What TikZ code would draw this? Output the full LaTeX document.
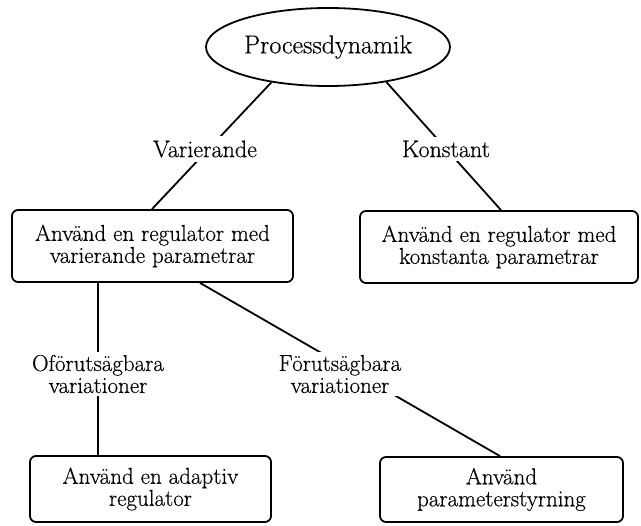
\documentclass[tikz,border=0pt]{standalone}
\usepackage{fontspec}
\newfontfamily\lmheavy{Latin Modern Roman}[FakeBold=0.4]
\usetikzlibrary{shapes.geometric}
\begin{document}
\begin{tikzpicture}[x=1pt,y=-1pt,
  line width=1.8pt,
  txt/.style={font=\lmheavy\fontsize{23}{22}\selectfont, align=center},
  box/.style={txt, draw, rounded corners=6pt, inner sep=0pt},
  lbl/.style={txt, fill=white, inner sep=5pt}]
\useasboundingbox (0,0) rectangle (641,526);
\node[draw, ellipse, minimum width=244pt, minimum height=78pt, inner sep=0pt,
      font=\lmheavy\fontsize{26}{26}\selectfont] (e) at (328,47) {Processdynamik};
\node[box, minimum width=281pt, minimum height=72pt] (b1) at (152.5,246) {Använd en regulator med\\varierande parametrar};
\node[box, minimum width=278pt, minimum height=72pt] (b2) at (499,247) {Använd en regulator med\\konstanta parametrar};
\node[box, minimum width=241pt, minimum height=66pt] (b3) at (150.5,489) {Använd en adaptiv\\regulator};
\node[box, minimum width=243pt, minimum height=65pt] (b4) at (501.5,489.5) {Använd\\parameterstyrning};
\draw (e.212) -- ([xshift=-0.5pt]b1.north);
\draw (e.329) -- ([xshift=2pt]b2.north);
\draw ([xshift=-54.5pt]b1.south) -- ([xshift=-52.5pt]b3.north);
\draw ([xshift=47.5pt]b1.south) -- ([xshift=-1.5pt]b4.north);
\node[lbl, inner sep=4pt, font=\lmheavy\fontsize{24}{22}\selectfont] (lv) at (205,149) {Varierande};
\node[lbl, inner sep=4pt, font=\lmheavy\fontsize{24}{22}\selectfont] (lk) at (446,149) {Konstant};
\node[lbl, inner sep=3pt] (lo) at (98,374) {Oförutsägbara\\variationer};
\node[lbl, inner sep=3pt] (lf) at (340,374) {Förutsägbara\\variationer};
\end{tikzpicture}
\end{document}
